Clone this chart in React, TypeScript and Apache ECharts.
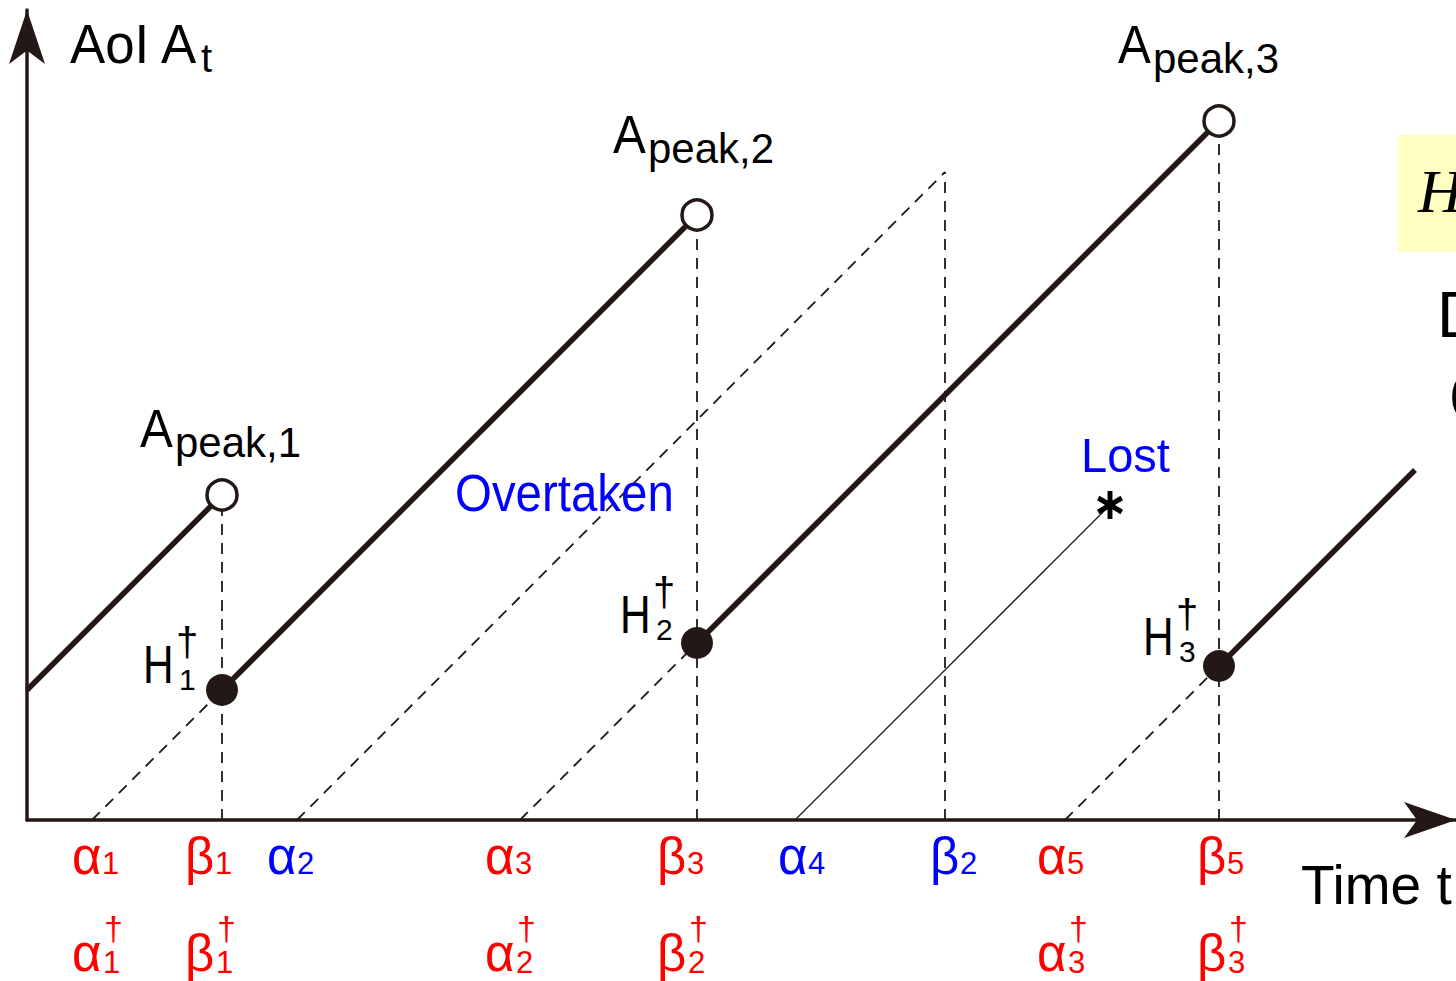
import React, { useEffect, useRef } from "react";
import * as echarts from "echarts";

// ---- data (time units) ----
const genTimes = [65, 270, 493, 768, 1038]; // α1..α5 generation times
const recvTimes: (number | null)[] = [195, 918, 670, null, 1192]; // β1..β5 (β4 lost)
const lostAt = 1083; // time at which update 4 is lost
const initialAoI = 130; // AoI at t = 0
const endTime = 1388;

// axis label texts
const row1Labels = [
  { g: "α", s: "1", c: "red", x: 72 },
  { g: "β", s: "1", c: "red", x: 185 },
  { g: "α", s: "2", c: "blue", x: 267 },
  { g: "α", s: "3", c: "red", x: 485 },
  { g: "β", s: "3", c: "red", x: 657 },
  { g: "α", s: "4", c: "blue", x: 778 },
  { g: "β", s: "2", c: "blue", x: 930 },
  { g: "α", s: "5", c: "red", x: 1037 },
  { g: "β", s: "5", c: "red", x: 1197 },
];
const row2Labels = [
  { g: "α", s: "1", x: 72 },
  { g: "β", s: "1", x: 185 },
  { g: "α", s: "2", x: 485 },
  { g: "β", s: "2", x: 657 },
  { g: "α", s: "3", x: 1037 },
  { g: "β", s: "3", x: 1197 },
];
const peakLabels = [
  { n: "1", x: 140, b: 447 },
  { n: "2", x: 613, b: 153 },
  { n: "3", x: 1118, b: 63 },
];
const hLabels = [
  { n: "1", x: 143, b: 683 },
  { n: "2", x: 620, b: 633 },
  { n: "3", x: 1143, b: 655 },
];

const DARK = "#231815";
const RED = "#ff0000";
const BLUE = "#0000ff";
const FONT = '"Liberation Sans", Arial, Helvetica, sans-serif';

function txt(text: string, x: number, baseline: number, size: number, color: string, opt: any = {}) {
  const family = opt.family || FONT;
  return {
    type: "text",
    x,
    y: baseline - 0.3465 * size,
    scaleX: opt.scaleX ?? 1,
    z: 100,
    silent: true,
    style: {
      text,
      x: 0,
      y: 0,
      font: `${opt.italic ? "italic " : ""}normal ${size}px ${family}`,
      fill: color,
      align: "left",
      verticalAlign: "middle",
      textAlign: "left",
      textVerticalAlign: "middle",
    },
  };
}

function asteriskPath(): string {
  const w = 0.18;
  const parts: string[] = [];
  for (const deg of [90, 30, 150]) {
    const a = (deg * Math.PI) / 180;
    const c = Math.cos(a), s = Math.sin(a);
    const nx = -s, ny = c;
    const pts = [
      [c + w * nx, s + w * ny],
      [c - w * nx, s - w * ny],
      [-c - w * nx, -s - w * ny],
      [-c + w * nx, -s + w * ny],
    ];
    parts.push("M" + pts.map((p) => `${p[0].toFixed(3)} ${(-p[1]).toFixed(3)}`).join("L") + "Z");
  }
  return "path://" + parts.join("");
}

function buildOption() {
  const order = recvTimes
    .map((r, i) => ({ r, i }))
    .filter((o) => o.r !== null)
    .sort((a, b) => (a.r as number) - (b.r as number));
  let lastGen = -initialAoI;
  let tPrev = 0;
  const solid: number[][][] = [];
  const peaks: number[][] = [];
  const resets: number[][] = [];
  const dashed: number[][][] = [];
  for (const { r, i } of order) {
    const t = r as number;
    const g = genTimes[i];
    if (g > lastGen) {
      solid.push([[tPrev, tPrev - lastGen], [t, t - lastGen]]);
      peaks.push([t, t - lastGen]);
      resets.push([t, t - g]);
      dashed.push([[g, 0], [t, t - g]]);
      dashed.push([[t, 0], [t, t - lastGen]]);
      lastGen = g;
      tPrev = t;
    } else {
      dashed.push([[g, 0], [t, t - g]]);
      dashed.push([[t, 0], [t, t - g]]);
    }
  }
  solid.push([[tPrev, tPrev - lastGen], [endTime, endTime - lastGen]]);
  const lostIdx = recvTimes.findIndex((r) => r === null);
  const lostLine = [[genTimes[lostIdx], 0], [lostAt, lostAt - genTimes[lostIdx]]];

  const series: any[] = [];
  dashed.forEach((seg) =>
    series.push({
      type: "line",
      data: seg,
      showSymbol: false,
      silent: true,
      z: 2,
      lineStyle: { color: DARK, width: 1.8, type: [11, 8] },
    })
  );
  series.push({
    type: "line",
    data: lostLine,
    showSymbol: false,
    silent: true,
    z: 2,
    lineStyle: { color: DARK, width: 1.3 },
  });
  solid.forEach((seg) =>
    series.push({
      type: "line",
      data: seg,
      showSymbol: false,
      silent: true,
      z: 3,
      lineStyle: { color: DARK, width: 5.5 },
    })
  );
  series.push({
    type: "scatter",
    data: peaks,
    symbol: "circle",
    symbolSize: 30,
    silent: true,
    z: 5,
    itemStyle: { color: "#ffffff", borderColor: DARK, borderWidth: 3.5, opacity: 1 },
  });
  series.push({
    type: "scatter",
    data: resets,
    symbol: "circle",
    symbolSize: 32,
    silent: true,
    z: 5,
    itemStyle: { color: DARK, opacity: 1 },
  });
  series.push({
    type: "scatter",
    data: [lostLine[1]],
    symbol: asteriskPath(),
    symbolSize: [26, 28],
    silent: true,
    z: 6,
    itemStyle: { color: "#000000", opacity: 1 },
  });

  const g: any[] = [];
  // right-edge fragments
  g.push({ type: "rect", z: 90, silent: true, shape: { x: 1398, y: 135, width: 60, height: 117 }, style: { fill: "#ffffc2" } });
  g.push(txt("H", 1418, 212, 62, "#000", { italic: true, family: '"Liberation Serif", "Times New Roman", serif' }));
  g.push(txt("D", 1437, 337, 64, "#000"));
  g.push(txt("(", 1449, 410, 50, "#000"));

  g.push(txt("AoI A", 70, 63, 55, "#000", { scaleX: 0.96 }));
  g.push(txt("t", 201, 72, 40, "#000"));
  peakLabels.forEach((p) => {
    g.push(txt("A", p.x, p.b, 53, "#000", { scaleX: 0.93 }));
    g.push(txt("peak," + p.n, p.x + 35, p.b + 10, 42, "#000"));
  });
  hLabels.forEach((h) => {
    g.push(txt("H", h.x, h.b, 53, "#000", { scaleX: 0.8 }));
    g.push(txt("†", h.x + 33, h.b - 27, 40, "#000"));
    g.push(txt(h.n, h.x + 36, h.b + 7, 30, "#000"));
  });
  g.push(txt("Overtaken", 455, 511, 51, BLUE, { scaleX: 0.93 }));
  g.push(txt("Lost", 1081, 472, 49, BLUE, { scaleX: 0.96 }));
  g.push(txt("Time t", 1301, 904, 55, "#000"));

  row1Labels.forEach((l) => {
    const col = l.c === "blue" ? BLUE : RED;
    g.push(txt(l.g, l.x, 874, 51, col));
    g.push(txt(l.s, l.x + 30, 874, 31, col));
  });
  row2Labels.forEach((l) => {
    g.push(txt(l.g, l.x, 971, 51, RED));
    g.push(txt("†", l.x + 32, 940, 34, RED));
    g.push(txt(l.s, l.x + 31, 973, 31, RED));
  });

  const axisCommon = {
    type: "value",
    axisTick: { show: false },
    axisLabel: { show: false },
    splitLine: { show: false },
  };

  return {
    animation: false,
    backgroundColor: "#ffffff",
    grid: { left: 27, right: 0, top: 10, bottom: 161, containLabel: false },
    xAxis: {
      ...axisCommon,
      min: 0,
      max: 1429,
      axisLine: {
        show: true,
        onZero: false,
        symbol: ["none", "arrow"],
        symbolSize: [27, 52],
        lineStyle: { color: DARK, width: 3.5 },
      },
    },
    yAxis: {
      ...axisCommon,
      min: 0,
      max: 810,
      axisLine: {
        show: true,
        onZero: false,
        symbol: ["none", "arrow"],
        symbolSize: [27, 54],
        lineStyle: { color: DARK, width: 3.5 },
      },
    },
    series,
    graphic: { elements: g },
  };
}

export default function App() {
  const ref = useRef<HTMLDivElement>(null);
  useEffect(() => {
    if (!ref.current) return;
    const chart = echarts.init(ref.current, undefined, { renderer: "svg" });
    chart.setOption(buildOption() as any);
    return () => chart.dispose();
  }, []);
  return (
    <div
      ref={ref}
      style={{ position: "fixed", left: 0, top: 0, width: 1456, height: 981, background: "#fff" }}
    />
  );
}
